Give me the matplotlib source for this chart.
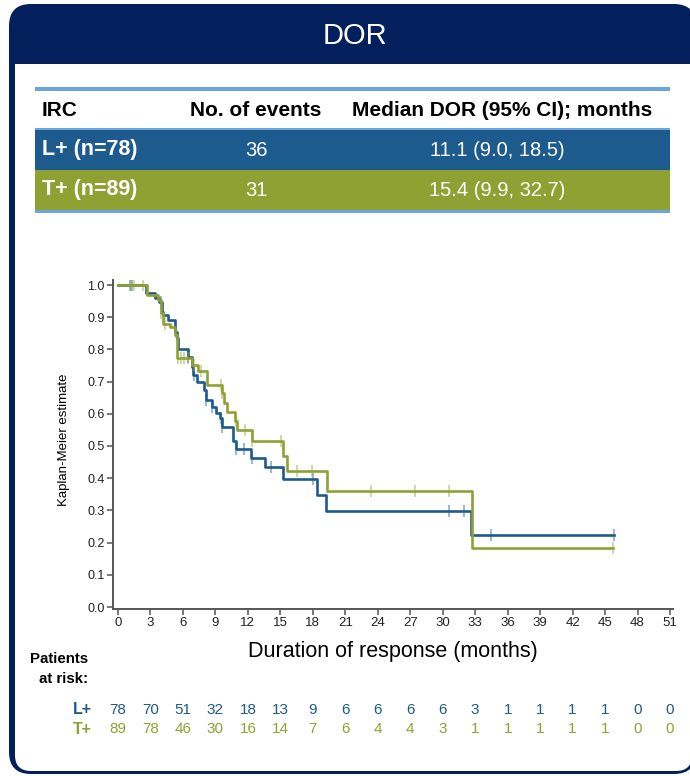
import numpy as np
import matplotlib
matplotlib.use("Agg")
import matplotlib.pyplot as plt
from matplotlib.patches import FancyBboxPatch, Rectangle

plt.rcParams['font.family'] = ['Liberation Sans', 'DejaVu Sans']

# ---------------- data ----------------
title = "DOR"
table_header = ["IRC", "No. of events", "Median DOR (95% CI); months"]
groups = ["L+", "T+"]
group_labels = ["L+ (n=78)", "T+ (n=89)"]
n_events = ["36", "31"]
median_ci = ["11.1 (9.0, 18.5)", "15.4 (9.9, 32.7)"]

l_times = [0, 2.6, 3.4, 3.8, 4.05, 4.2, 4.65, 5.27, 5.42, 5.57, 6.5, 6.8, 6.96, 7.27,
           7.9, 8.1, 8.65, 9.1, 9.4, 9.6, 10.66, 10.87, 12.25, 13.6, 15.2, 18.35, 19.2,
           32.65, 45.8]
l_surv = [1.0, 0.974, 0.959, 0.946, 0.917, 0.907, 0.891, 0.855, 0.834, 0.801, 0.775,
          0.746, 0.72, 0.70, 0.673, 0.643, 0.622, 0.601, 0.586, 0.56, 0.517, 0.491,
          0.463, 0.434, 0.398, 0.349, 0.298, 0.225, 0.225]
l_censor = [1.1, 1.3, 4.0, 5.4, 6.5, 7.0, 8.1, 8.7, 9.5, 9.6, 10.9, 11.6, 12.4, 14.1,
            18.0, 30.6, 32.0, 34.5, 45.8]

t_times = [0, 2.7, 3.73, 4.0, 4.15, 4.8, 5.27, 5.42, 6.8, 7.42, 8.2, 9.6, 9.8, 10.05,
           10.8, 10.95, 12.35, 15.2, 15.6, 19.28, 32.7, 45.7]
t_surv = [1.0, 0.969, 0.953, 0.912, 0.88, 0.87, 0.845, 0.772, 0.752, 0.734, 0.689,
          0.666, 0.635, 0.607, 0.578, 0.55, 0.516, 0.469, 0.422, 0.361, 0.182, 0.182]
t_censor = [1.2, 1.5, 2.3, 4.0, 4.3, 5.5, 5.8, 6.1, 6.5, 7.0, 7.7, 9.5, 9.6, 10.9,
            11.7, 12.4, 15.1, 16.5, 17.9, 23.4, 27.4, 30.6, 45.7]

risk_times = list(range(0, 52, 3))
l_risk = [78, 70, 51, 32, 18, 13, 9, 6, 6, 6, 6, 3, 1, 1, 1, 1, 0, 0]
t_risk = [89, 78, 46, 30, 16, 14, 7, 6, 4, 4, 3, 1, 1, 1, 1, 1, 0, 0]

yticks = [0.0, 0.1, 0.2, 0.3, 0.4, 0.5, 0.6, 0.7, 0.8, 0.9, 1.0]
xlabel = "Duration of response (months)"
ylabel = "Kaplan-Meier estimate"

# ---------------- styles ----------------
NAVY = "#03205c"
BLUE = "#1d5a8e"
GREEN = "#8fa133"
LINEBLUE = "#6aa6dc"

W, H = 690, 776
fig = plt.figure(figsize=(W / 100, H / 100), dpi=100)

bg = fig.add_axes([0, 0, 1, 1], zorder=0)
bg.set_xlim(0, W)
bg.set_ylim(H, 0)
bg.axis("off")

# frame
bg.add_patch(FancyBboxPatch((9, 4), 687, 770, boxstyle="round,pad=0,rounding_size=22",
                            fc=NAVY, ec="none"))
bg.add_patch(FancyBboxPatch((15, 40), 677, 731, boxstyle="round,pad=0,rounding_size=16",
                            fc="white", ec="none"))
bg.add_patch(Rectangle((15, 30), 677, 34, fc=NAVY, ec="none"))
bg.text(355, 36, title, color="white", fontsize=21, ha="center", va="center")

# table
tx0, tx1 = 35, 670
bg.add_patch(Rectangle((tx0, 87), tx1 - tx0, 3.5, fc=LINEBLUE, ec="none"))
bg.add_patch(Rectangle((tx0, 128), tx1 - tx0, 42, fc=BLUE, ec="none"))
bg.add_patch(Rectangle((tx0, 128), tx1 - tx0, 1.5, fc=LINEBLUE, ec="none"))
bg.add_patch(Rectangle((tx0, 170), tx1 - tx0, 40, fc=GREEN, ec="none"))
bg.add_patch(Rectangle((tx0, 209.5), tx1 - tx0, 3, fc=LINEBLUE, ec="none"))

col_x = [42, 256, 502]
bg.text(col_x[0], 111, table_header[0], fontsize=15, fontweight="bold", ha="left", va="center")
bg.text(col_x[1], 111, table_header[1], fontsize=15, fontweight="bold", ha="center", va="center")
bg.text(col_x[2], 111, table_header[2], fontsize=15, fontweight="bold", ha="center", va="center")
row_y = [150, 190]
for i in range(2):
    bg.text(col_x[0], row_y[i], group_labels[i], fontsize=15.5, fontweight="bold",
            color="white", ha="left", va="center")
    bg.text(col_x[1], row_y[i], n_events[i], fontsize=14.5, color="white",
            ha="center", va="center")
    bg.text(497, row_y[i], median_ci[i], fontsize=14.5, color="white",
            ha="center", va="center")

# ---------------- KM plot ----------------
ax_l, ax_r, ax_t, ax_b = 113, 673, 280, 609
ax = fig.add_axes([ax_l / W, 1 - ax_b / H, (ax_r - ax_l) / W, (ax_b - ax_t) / H], zorder=2)
ax.patch.set_alpha(0)
pxu_x = (670 - 118) / 51.0
pxu_y = (607 - 285) / 1.0
ax.set_xlim(-(118 - ax_l) / pxu_x, 51 + (ax_r - 670) / pxu_x)
ax.set_ylim(-(ax_b - 607) / pxu_y, 1 + (285 - ax_t) / pxu_y)


def censor_y(times, surv, cens):
    idx = np.searchsorted(np.array(times), np.array(cens), side="right") - 1
    return np.array(surv)[idx]


for times, surv, cens, col in [(l_times, l_surv, l_censor, BLUE),
                               (t_times, t_surv, t_censor, GREEN)]:
    ax.step(times, surv, where="post", color=col, lw=1.9, zorder=3)
    ax.plot(cens, censor_y(times, surv, cens), ls="none", marker="|", ms=9, mew=1.2,
            color=col, alpha=0.5, zorder=3)

for s in ["top", "right"]:
    ax.spines[s].set_visible(False)
for s in ["left", "bottom"]:
    ax.spines[s].set_color("#555555")
    ax.spines[s].set_linewidth(1.4)
ax.set_xticks(risk_times)
ax.set_yticks(yticks)
ax.set_yticklabels([f"{v:.1f}" for v in yticks])
ax.tick_params(axis="both", direction="out", length=4, width=1.1, color="#555555",
               labelsize=9, labelcolor="#222222", pad=2)
ax.tick_params(axis="x", labelsize=9.5)
ax.set_ylabel(ylabel, fontsize=9.5)
ax.yaxis.set_label_coords((70 - ax_l) / (ax_r - ax_l), (609 - 440) / (ax_b - ax_t))

bg.text(393, 652, xlabel, fontsize=15.5, ha="center", va="center")
bg.text(88, 669, "Patients\nat risk:", fontsize=10.8, fontweight="bold", ha="right",
        va="center", linespacing=1.6)

tr = ax.get_xaxis_transform()
for lab, risk, col, py in [("L+", l_risk, BLUE, 710), ("T+", t_risk, GREEN, 729)]:
    yy = (ax_b - py) / (ax_b - ax_t)
    bg.text(92, py, lab, fontsize=11.5, fontweight="bold", color=col, ha="right", va="center")
    for t, r in zip(risk_times, risk):
        ax.text(t, yy, str(r), transform=tr, fontsize=11, color=col, ha="center",
                va="center", clip_on=False)

fig.savefig("out.png", dpi=100)
